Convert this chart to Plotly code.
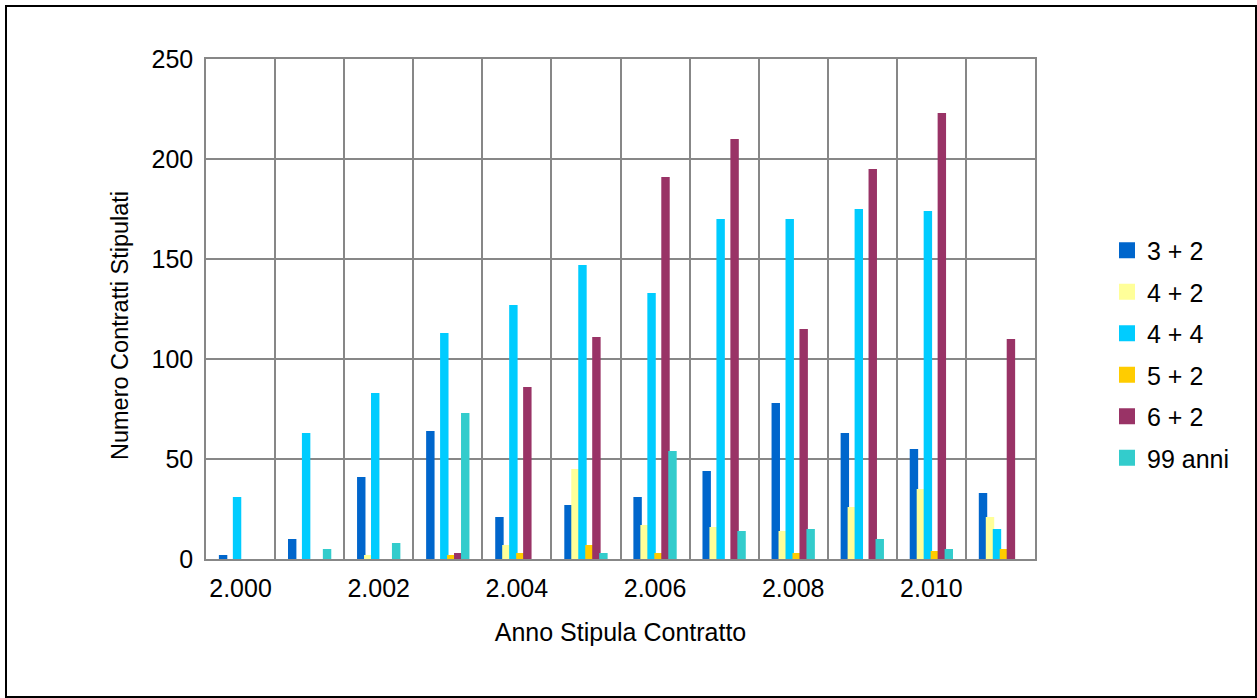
import plotly.graph_objects as go

# Contract counts per year, by contract type
years = [2000, 2001, 2002, 2003, 2004, 2005, 2006, 2007, 2008, 2009, 2010, 2011]
series_names = ["3 + 2", "4 + 2", "4 + 4", "5 + 2", "6 + 2", "99 anni"]
c_3_2 = [2, 10, 41, 64, 21, 27, 31, 44, 78, 63, 55, 33]
c_4_2 = [0, 0, 2, 0, 7, 45, 17, 16, 14, 26, 35, 21]
c_4_4 = [31, 63, 83, 113, 127, 147, 133, 170, 170, 175, 174, 15]
c_5_2 = [0, 0, 0, 2, 3, 7, 3, 0, 3, 0, 4, 5]
c_6_2 = [0, 0, 0, 3, 86, 111, 191, 210, 115, 195, 223, 110]
c_99 = [0, 5, 8, 73, 0, 3, 54, 14, 15, 10, 5, 0]
year_labels = [f"{y:,}".replace(",", ".") for y in years[::2]]

colors = ["#0066CC", "#FFFF99", "#00CCFF", "#FFCC00", "#993366", "#33CCCC"]
values = [c_3_2, c_4_2, c_4_4, c_5_2, c_6_2, c_99]

FONT = "Liberation Sans, Arial, sans-serif"
FS = 25
FS_YTITLE = 23.5
GRID = "#878787"

W, H = 1257, 698
ML, MR, MT, MB = 206, 222, 59, 139
PW, PH = W - ML - MR, H - MT - MB

bar_w = 0.122   # bar width in category units
step = 0.101    # spacing between bars of one group (slight overlap)

fig = go.Figure()
n = len(series_names)
for i, (name, vals, col) in enumerate(zip(series_names, values, colors)):
    fig.add_trace(go.Bar(
        x=years, y=vals, name=name, legendgroup=name, showlegend=False,
        marker=dict(color=col, line=dict(width=0)),
        width=bar_w, offset=(i - (n - 1) / 2) * step - bar_w / 2,
        hoverinfo="x+y+name",
    ))
for name, col in zip(series_names, colors):
    fig.add_trace(go.Scatter(
        x=[None], y=[None], mode="markers", name=name, legendgroup=name,
        marker=dict(symbol="square", size=18, color=col), showlegend=True,
    ))

def px_to_paper_x(px):
    return (px - ML) / PW

def px_to_paper_y(py):
    return (H - MB - py) / PH

fig.update_layout(
    width=W, height=H,
    margin=dict(l=ML, r=MR, t=MT, b=MB),
    paper_bgcolor="white", plot_bgcolor="white",
    barmode="overlay",
    font=dict(family=FONT, size=FS, color="black"),
    showlegend=True,
    legend=dict(
        x=px_to_paper_x(1107), xanchor="left",
        y=px_to_paper_y(354), yanchor="middle",
        font=dict(family=FONT, size=FS, color="black"),
        tracegroupgap=6, bgcolor="rgba(0,0,0,0)",
    ),
    xaxis=dict(
        range=[years[0] - 0.5, years[-1] + 0.5],
        tickmode="array", tickvals=years[::2], ticktext=year_labels,
        showgrid=False, zeroline=False, ticks="",
        showline=True, mirror=True, linecolor=GRID, linewidth=1.5,
        ticklabelstandoff=6,
        minor=dict(tick0=years[0] - 0.5, dtick=1, showgrid=True,
                   gridcolor=GRID, gridwidth=1.5, ticks=""),
        title=dict(text="Anno Stipula Contratto", standoff=23,
                   font=dict(family=FONT, size=FS)),
    ),
    yaxis=dict(
        range=[0, 250], dtick=50, tick0=0,
        showgrid=True, gridcolor=GRID, gridwidth=1.5,
        zeroline=False, ticks="",
        showline=True, mirror=True, linecolor=GRID, linewidth=1.5,
        ticklabelstandoff=6,
    ),
    annotations=[dict(
        text="Numero Contratti Stipulati", textangle=-90, showarrow=False,
        xref="paper", yref="paper",
        x=px_to_paper_x(120), y=px_to_paper_y(326),
        xanchor="center", yanchor="middle",
        font=dict(family=FONT, size=FS_YTITLE, color="black"),
    )],
    shapes=[dict(
        type="rect", xref="paper", yref="paper", layer="above",
        x0=px_to_paper_x(6), x1=px_to_paper_x(1256),
        y0=px_to_paper_y(697), y1=px_to_paper_y(6),
        line=dict(color="black", width=2), fillcolor="rgba(0,0,0,0)",
    )],
)

fig.write_html("out.html")
